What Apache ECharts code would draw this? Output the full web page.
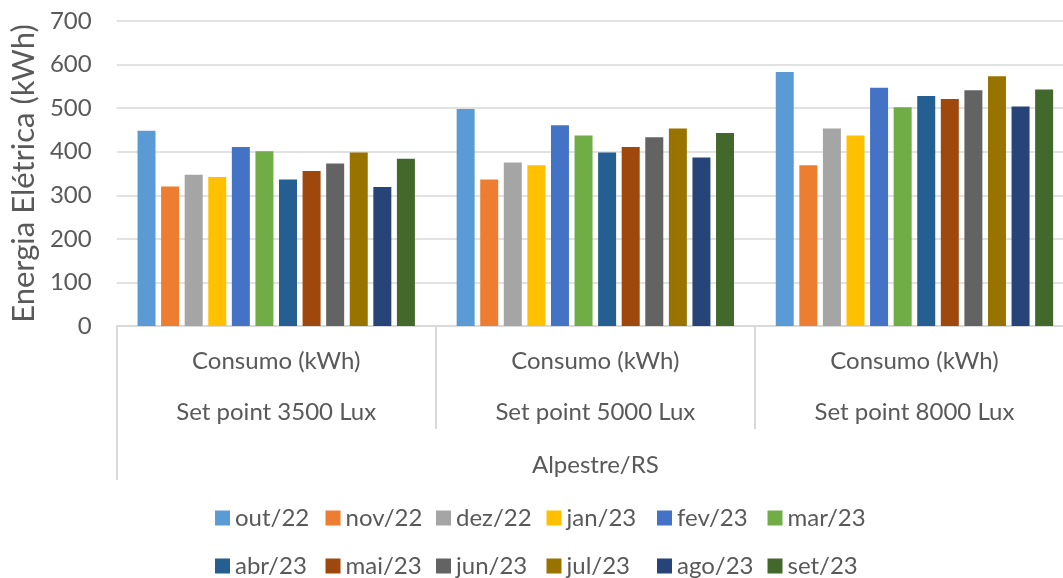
<!DOCTYPE html>
<html>
<head>
<meta charset="utf-8">
<script src="https://cdn.jsdelivr.net/npm/echarts@6/dist/echarts.min.js"></script>
<style>
html,body{margin:0;padding:0;background:#fff;overflow:hidden;}
#chart{width:1074px;height:578px;}
</style>
</head>
<body>
<div id="chart"></div>
<script>
// ---- data ----
var setpoints = ['Set point 3500 Lux', 'Set point 5000 Lux', 'Set point 8000 Lux'];
var groupLabel = ['Consumo (kWh)', 'Consumo (kWh)', 'Consumo (kWh)'];
var regionLabel = ['Alpestre/RS'];
var months = ['out/22','nov/22','dez/22','jan/23','fev/23','mar/23','abr/23','mai/23','jun/23','jul/23','ago/23','set/23'];
var out22 = [448, 498, 583];
var nov22 = [320, 336, 369];
var dez22 = [347, 375, 453];
var jan23 = [342, 369, 437];
var fev23 = [411, 461, 547];
var mar23 = [401, 437, 502];
var abr23 = [336, 398, 528];
var mai23 = [356, 411, 521];
var jun23 = [373, 433, 541];
var jul23 = [398, 453, 573];
var ago23 = [319, 387, 504];
var set23 = [384, 443, 543];
var yTicks = [0, 100, 200, 300, 400, 500, 600, 700];

var monthValues = [out22, nov22, dez22, jan23, fev23, mar23, abr23, mai23, jun23, jul23, ago23, set23];
var colors = ['#5B9BD5','#ED7D31','#A5A5A5','#FFC000','#4472C4','#70AD47','#255E91','#9E480E','#636363','#997300','#264478','#43682B'];

var FONT = 'Lato';
var TXT = '#595959';
var GRIDC = '#d9d9d9';

var series = months.map(function (m, i) {
  return {
    name: m,
    type: 'bar',
    data: monthValues[i],
    barWidth: 18,
    barGap: '31%',
    itemStyle: { color: colors[i] },
    emphasis: { disabled: true }
  };
});

// one legend per item so the items sit in equal-width columns (two rows of six)
var legends = months.map(function (m, i) {
  var col = i % 6, row = Math.floor(i / 6);
  return {
    data: [m],
    left: 215 + col * 110.5,
    top: 506 + row * 48,
    padding: 0,
    itemWidth: 15, itemHeight: 15, itemGap: 0, icon: 'rect',
    selectedMode: false,
    textStyle: { fontFamily: FONT, fontSize: 24, color: TXT }
  };
});

var chart = echarts.init(document.getElementById('chart'), null, { renderer: 'canvas' });
chart.setOption({
  animation: false,
  color: colors,
  grid: { left: 115, top: 21, right: 0, height: 305 },
  legend: legends,
  xAxis: [
    {
      type: 'category', data: groupLabel, position: 'bottom',
      axisLine: { show: true, lineStyle: { color: GRIDC, width: 2 } },
      axisTick: { show: true, length: 103, interval: 0, lineStyle: { color: GRIDC, width: 2 } },
      axisLabel: { interval: 0, margin: 21, fontFamily: FONT, fontSize: 24, color: TXT, lineHeight: 28 },
      splitLine: { show: false }
    },
    {
      type: 'category', data: setpoints, position: 'bottom',
      axisLine: { show: false }, axisTick: { show: false },
      axisLabel: { interval: 0, margin: 72, fontFamily: FONT, fontSize: 24, color: TXT, lineHeight: 28 },
      splitLine: { show: false }
    },
    {
      type: 'category', data: regionLabel, position: 'bottom',
      axisLine: { show: false },
      axisTick: { show: true, length: 154, lineStyle: { color: GRIDC, width: 2 } },
      axisLabel: { interval: 0, margin: 125, fontFamily: FONT, fontSize: 24, color: TXT, lineHeight: 28 },
      splitLine: { show: false }
    }
  ],
  yAxis: {
    type: 'value', min: yTicks[0], max: yTicks[yTicks.length - 1], interval: 100,
    name: 'Energia Elétrica (kWh)', nameLocation: 'middle', nameRotate: 90, nameGap: 75,
    nameTextStyle: { fontFamily: FONT, fontSize: 31, color: TXT },
    axisLine: { show: false }, axisTick: { show: false },
    axisLabel: { margin: 25, fontFamily: FONT, fontSize: 24, color: TXT },
    splitLine: { lineStyle: { color: GRIDC, width: 1.5 } }
  },
  series: series
});
</script>
</body>
</html>
